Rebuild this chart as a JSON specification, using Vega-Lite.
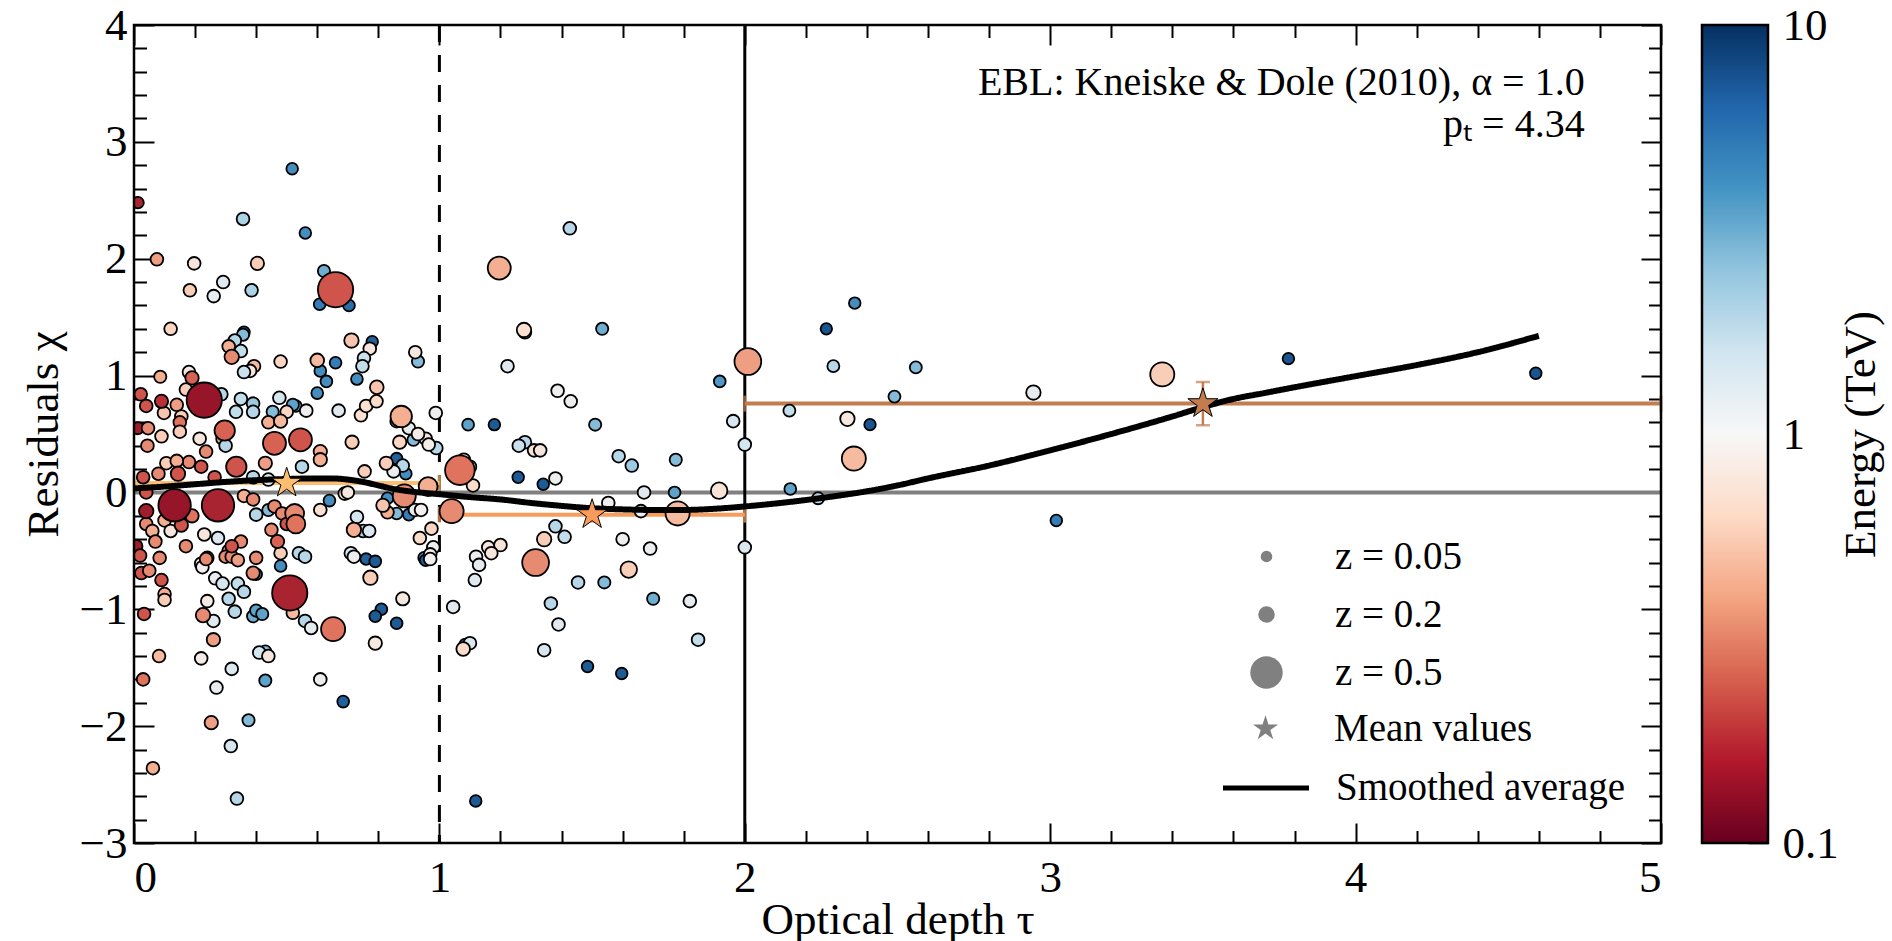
{
  "$schema": "https://vega.github.io/schema/vega-lite/v6.json",
  "background": "white",
  "padding": {"left": 21, "top": 3, "right": 4, "bottom": 0},
  "width": 1634,
  "height": 818,
  "config": {
    "font": "Liberation Serif",
    "view": {"stroke": null},
    "axis": {
      "labelFont": "Liberation Serif", "titleFont": "Liberation Serif",
      "labelFontSize": 45, "titleFontSize": 45, "labelColor": "black", "titleColor": "black",
      "titleFontWeight": "normal", "grid": false, "domain": false,
      "tickColor": "black", "tickWidth": 2
    },
    "legend": {
      "labelFont": "Liberation Serif", "labelFontSize": 39, "labelColor": "black",
      "labelLimit": 600, "padding": 0, "titlePadding": 0
    }
  },
  "datasets": {
    "sources": [
      {"tau": 0.518, "chi": 2.77, "E": 5, "z": 0.05},
      {"tau": 0.013, "chi": 2.48, "E": 0.13, "z": 0.05},
      {"tau": 0.357, "chi": 2.34, "E": 2.2, "z": 0.1},
      {"tau": 0.561, "chi": 2.22, "E": 5, "z": 0.05},
      {"tau": 0.075, "chi": 1.995, "E": 0.35, "z": 0.1},
      {"tau": 0.197, "chi": 1.96, "E": 0.8, "z": 0.1},
      {"tau": 0.404, "chi": 1.96, "E": 0.55, "z": 0.12},
      {"tau": 0.292, "chi": 1.8, "E": 1.3, "z": 0.1},
      {"tau": 0.183, "chi": 1.73, "E": 0.55, "z": 0.1},
      {"tau": 0.261, "chi": 1.68, "E": 1.15, "z": 0.1},
      {"tau": 0.385, "chi": 1.73, "E": 2.2, "z": 0.1},
      {"tau": 0.622, "chi": 1.895, "E": 3.5, "z": 0.08},
      {"tau": 0.66, "chi": 1.735, "E": 0.2, "z": 0.55},
      {"tau": 0.608, "chi": 1.61, "E": 6, "z": 0.06},
      {"tau": 0.704, "chi": 1.6, "E": 7, "z": 0.06},
      {"tau": 0.12, "chi": 1.4, "E": 0.6, "z": 0.1},
      {"tau": 0.36, "chi": 1.37, "E": 8, "z": 0.06},
      {"tau": 0.357, "chi": 1.35, "E": 3, "z": 0.08},
      {"tau": 0.33, "chi": 1.3, "E": 2, "z": 0.1},
      {"tau": 0.31, "chi": 1.25, "E": 0.4, "z": 0.1},
      {"tau": 0.35, "chi": 1.21, "E": 1.8, "z": 0.1},
      {"tau": 0.32, "chi": 1.16, "E": 0.3, "z": 0.15},
      {"tau": 0.48, "chi": 1.12, "E": 0.6, "z": 0.1},
      {"tau": 0.6, "chi": 1.13, "E": 0.45, "z": 0.13},
      {"tau": 0.66, "chi": 1.11, "E": 6, "z": 0.06},
      {"tau": 0.712, "chi": 1.3, "E": 0.5, "z": 0.15},
      {"tau": 0.78, "chi": 1.29, "E": 8, "z": 0.05},
      {"tau": 0.772, "chi": 1.23, "E": 0.8, "z": 0.1},
      {"tau": 0.753, "chi": 1.15, "E": 1.7, "z": 0.1},
      {"tau": 0.748, "chi": 1.08, "E": 1.8, "z": 0.1},
      {"tau": 0.921, "chi": 1.2, "E": 0.85, "z": 0.1},
      {"tau": 0.93, "chi": 1.12, "E": 3, "z": 0.08},
      {"tau": 0.393, "chi": 1.08, "E": 0.45, "z": 0.1},
      {"tau": 0.38, "chi": 1.04, "E": 0.8, "z": 0.1},
      {"tau": 0.36, "chi": 1.03, "E": 1.7, "z": 0.1},
      {"tau": 0.18, "chi": 1.03, "E": 0.8, "z": 0.1},
      {"tau": 0.19, "chi": 0.98, "E": 0.22, "z": 0.12},
      {"tau": 0.086, "chi": 0.99, "E": 0.4, "z": 0.08},
      {"tau": 0.61, "chi": 1.04, "E": 5, "z": 0.06},
      {"tau": 0.73, "chi": 0.97, "E": 5, "z": 0.06},
      {"tau": 0.6, "chi": 0.85, "E": 5, "z": 0.06},
      {"tau": 0.63, "chi": 0.95, "E": 5, "z": 0.06},
      {"tau": 0.022, "chi": 0.84, "E": 0.2, "z": 0.1},
      {"tau": 0.04, "chi": 0.74, "E": 0.2, "z": 0.1},
      {"tau": 0.09, "chi": 0.78, "E": 0.15, "z": 0.12},
      {"tau": 0.14, "chi": 0.75, "E": 0.35, "z": 0.1},
      {"tau": 0.098, "chi": 0.68, "E": 0.5, "z": 0.1},
      {"tau": 0.23, "chi": 0.79, "E": 0.11, "z": 0.55},
      {"tau": 0.17, "chi": 0.88, "E": 0.55, "z": 0.1},
      {"tau": 0.286, "chi": 0.84, "E": 2, "z": 0.1},
      {"tau": 0.35, "chi": 0.8, "E": 1.8, "z": 0.1},
      {"tau": 0.334, "chi": 0.69, "E": 1.8, "z": 0.1},
      {"tau": 0.39, "chi": 0.76, "E": 2.5, "z": 0.1},
      {"tau": 0.39, "chi": 0.69, "E": 2, "z": 0.1},
      {"tau": 0.476, "chi": 0.81, "E": 1.5, "z": 0.1},
      {"tau": 0.52, "chi": 0.75, "E": 4, "z": 0.08},
      {"tau": 0.564, "chi": 0.7, "E": 1.1, "z": 0.1},
      {"tau": 0.5, "chi": 0.69, "E": 0.6, "z": 0.1},
      {"tau": 0.454, "chi": 0.69, "E": 3, "z": 0.08},
      {"tau": 0.44, "chi": 0.6, "E": 0.4, "z": 0.1},
      {"tau": 0.48, "chi": 0.61, "E": 0.45, "z": 0.12},
      {"tau": 0.67, "chi": 0.7, "E": 1.3, "z": 0.1},
      {"tau": 0.743, "chi": 0.66, "E": 0.7, "z": 0.1},
      {"tau": 0.76, "chi": 0.74, "E": 0.7, "z": 0.1},
      {"tau": 0.794, "chi": 0.78, "E": 0.65, "z": 0.1},
      {"tau": 0.795, "chi": 0.9, "E": 0.5, "z": 0.13},
      {"tau": 0.875, "chi": 0.65, "E": 0.4, "z": 0.3},
      {"tau": 0.86, "chi": 0.61, "E": 2, "z": 0.1},
      {"tau": 0.9, "chi": 0.55, "E": 1.2, "z": 0.1},
      {"tau": 0.915, "chi": 0.45, "E": 3, "z": 0.08},
      {"tau": 0.955, "chi": 0.46, "E": 0.85, "z": 0.1},
      {"tau": 0.988, "chi": 0.68, "E": 1.05, "z": 0.1},
      {"tau": 0.99, "chi": 0.38, "E": 2, "z": 0.1},
      {"tau": 0.965, "chi": 0.41, "E": 0.95, "z": 0.1},
      {"tau": 0.87, "chi": 0.43, "E": 0.6, "z": 0.12},
      {"tau": 0.714, "chi": 0.43, "E": 0.55, "z": 0.12},
      {"tau": 0.53, "chi": 0.74, "E": 4, "z": 0.06},
      {"tau": 0.93, "chi": 0.5, "E": 0.9, "z": 0.1},
      {"tau": 0.155, "chi": 0.65, "E": 0.55, "z": 0.1},
      {"tau": 0.013, "chi": 0.55, "E": 0.12, "z": 0.08},
      {"tau": 0.046, "chi": 0.55, "E": 0.3, "z": 0.1},
      {"tau": 0.09, "chi": 0.48, "E": 0.55, "z": 0.1},
      {"tau": 0.044, "chi": 0.4, "E": 0.3, "z": 0.1},
      {"tau": 0.15, "chi": 0.6, "E": 0.25, "z": 0.1},
      {"tau": 0.15, "chi": 0.52, "E": 0.55, "z": 0.1},
      {"tau": 0.215, "chi": 0.46, "E": 0.8, "z": 0.1},
      {"tau": 0.236, "chi": 0.35, "E": 0.3, "z": 0.1},
      {"tau": 0.297, "chi": 0.53, "E": 0.22, "z": 0.28},
      {"tau": 0.29, "chi": 0.46, "E": 0.4, "z": 0.1},
      {"tau": 0.3, "chi": 0.4, "E": 2, "z": 0.1},
      {"tau": 0.46, "chi": 0.42, "E": 0.22, "z": 0.33},
      {"tau": 0.545, "chi": 0.45, "E": 0.2, "z": 0.33},
      {"tau": 0.43, "chi": 0.25, "E": 0.35, "z": 0.12},
      {"tau": 0.335, "chi": 0.22, "E": 0.2, "z": 0.28},
      {"tau": 0.144, "chi": 0.16, "E": 0.2, "z": 0.15},
      {"tau": 0.18, "chi": 0.26, "E": 0.3, "z": 0.1},
      {"tau": 0.22, "chi": 0.22, "E": 0.2, "z": 0.1},
      {"tau": 0.03, "chi": 0.13, "E": 0.2, "z": 0.1},
      {"tau": 0.08, "chi": 0.16, "E": 0.3, "z": 0.1},
      {"tau": 0.106, "chi": 0.25, "E": 0.55, "z": 0.1},
      {"tau": 0.14, "chi": 0.27, "E": 0.4, "z": 0.1},
      {"tau": 0.264, "chi": 0.13, "E": 0.2, "z": 0.1},
      {"tau": 0.39, "chi": 0.13, "E": 2, "z": 0.1},
      {"tau": 0.44, "chi": 0.11, "E": 1.3, "z": 0.1},
      {"tau": 0.61, "chi": 0.35, "E": 0.4, "z": 0.12},
      {"tau": 0.61, "chi": 0.28, "E": 0.4, "z": 0.12},
      {"tau": 0.55, "chi": 0.22, "E": 2, "z": 0.1},
      {"tau": 0.755, "chi": 0.18, "E": 0.55, "z": 0.1},
      {"tau": 0.826, "chi": 0.25, "E": 0.55, "z": 0.12},
      {"tau": 0.86, "chi": 0.29, "E": 8, "z": 0.05},
      {"tau": 0.88, "chi": 0.23, "E": 2, "z": 0.1},
      {"tau": 0.89, "chi": 0.16, "E": 5, "z": 0.06},
      {"tau": 0.85, "chi": 0.18, "E": 1.1, "z": 0.1},
      {"tau": 0.963, "chi": 0.05, "E": 0.4, "z": 0.25},
      {"tau": 0.885, "chi": -0.03, "E": 0.3, "z": 0.33},
      {"tau": 0.69, "chi": -0.01, "E": 0.7, "z": 0.1},
      {"tau": 0.7, "chi": 0.0, "E": 0.85, "z": 0.1},
      {"tau": 0.64, "chi": -0.07, "E": 5, "z": 0.06},
      {"tau": 0.61, "chi": -0.15, "E": 0.7, "z": 0.1},
      {"tau": 0.73, "chi": -0.21, "E": 1.5, "z": 0.1},
      {"tau": 0.72, "chi": -0.32, "E": 0.4, "z": 0.15},
      {"tau": 0.75, "chi": -0.33, "E": 2, "z": 0.1},
      {"tau": 0.815, "chi": -0.11, "E": 0.5, "z": 0.12},
      {"tau": 0.86, "chi": -0.18, "E": 3, "z": 0.06},
      {"tau": 0.9, "chi": -0.19, "E": 6, "z": 0.06},
      {"tau": 0.92, "chi": -0.15, "E": 1.1, "z": 0.1},
      {"tau": 0.94, "chi": -0.15, "E": 1.0, "z": 0.1},
      {"tau": 0.974, "chi": -0.31, "E": 0.6, "z": 0.1},
      {"tau": 0.936, "chi": -0.39, "E": 0.65, "z": 0.1},
      {"tau": 0.98, "chi": -0.47, "E": 1.1, "z": 0.1},
      {"tau": 0.97, "chi": -0.53, "E": 1.0, "z": 0.1},
      {"tau": 0.95, "chi": -0.56, "E": 5, "z": 0.06},
      {"tau": 0.526, "chi": -0.18, "E": 0.3, "z": 0.25},
      {"tau": 0.53, "chi": -0.27, "E": 0.25, "z": 0.25},
      {"tau": 0.54, "chi": -0.52, "E": 2, "z": 0.1},
      {"tau": 0.71, "chi": -0.52, "E": 1.5, "z": 0.1},
      {"tau": 0.76, "chi": -0.57, "E": 8, "z": 0.05},
      {"tau": 0.133, "chi": -0.11, "E": 0.11, "z": 0.5},
      {"tau": 0.275, "chi": -0.11, "E": 0.13, "z": 0.5},
      {"tau": 0.04, "chi": -0.16, "E": 0.12, "z": 0.15},
      {"tau": 0.04, "chi": 0.0, "E": 0.2, "z": 0.1},
      {"tau": 0.04, "chi": -0.27, "E": 0.3, "z": 0.1},
      {"tau": 0.007, "chi": -0.46, "E": 0.12, "z": 0.1},
      {"tau": 0.02, "chi": -0.54, "E": 0.2, "z": 0.1},
      {"tau": 0.06, "chi": -0.33, "E": 0.4, "z": 0.1},
      {"tau": 0.07, "chi": -0.42, "E": 0.3, "z": 0.1},
      {"tau": 0.084, "chi": -0.56, "E": 0.3, "z": 0.1},
      {"tau": 0.1, "chi": -0.24, "E": 0.4, "z": 0.1},
      {"tau": 0.12, "chi": -0.33, "E": 0.8, "z": 0.1},
      {"tau": 0.155, "chi": -0.28, "E": 0.2, "z": 0.12},
      {"tau": 0.19, "chi": -0.2, "E": 0.25, "z": 0.12},
      {"tau": 0.17, "chi": -0.46, "E": 0.3, "z": 0.1},
      {"tau": 0.23, "chi": -0.36, "E": 0.8, "z": 0.1},
      {"tau": 0.24, "chi": -0.56, "E": 0.3, "z": 0.1},
      {"tau": 0.275, "chi": -0.39, "E": 1.4, "z": 0.1},
      {"tau": 0.31, "chi": -0.5, "E": 0.4, "z": 0.1},
      {"tau": 0.35, "chi": -0.42, "E": 0.3, "z": 0.1},
      {"tau": 0.36, "chi": -0.03, "E": 0.4, "z": 0.1},
      {"tau": 0.39, "chi": -0.06, "E": 0.3, "z": 0.1},
      {"tau": 0.4, "chi": -0.19, "E": 2, "z": 0.1},
      {"tau": 0.44, "chi": -0.15, "E": 3, "z": 0.08},
      {"tau": 0.46, "chi": -0.12, "E": 0.3, "z": 0.1},
      {"tau": 0.485, "chi": -0.18, "E": 0.3, "z": 0.1},
      {"tau": 0.5, "chi": -0.27, "E": 0.2, "z": 0.1},
      {"tau": 0.45, "chi": -0.32, "E": 0.3, "z": 0.1},
      {"tau": 0.47, "chi": -0.42, "E": 0.22, "z": 0.12},
      {"tau": 0.48, "chi": -0.52, "E": 0.55, "z": 0.1},
      {"tau": 0.4, "chi": -0.56, "E": 0.3, "z": 0.1},
      {"tau": 0.3, "chi": -0.55, "E": 0.3, "z": 0.1},
      {"tau": 0.39, "chi": -0.69, "E": 0.3, "z": 0.12},
      {"tau": 0.4, "chi": -0.7, "E": 5, "z": 0.06},
      {"tau": 0.48, "chi": -0.63, "E": 5, "z": 0.06},
      {"tau": 0.56, "chi": -0.55, "E": 2, "z": 0.1},
      {"tau": 0.024, "chi": -0.69, "E": 0.2, "z": 0.1},
      {"tau": 0.05, "chi": -0.67, "E": 0.3, "z": 0.1},
      {"tau": 0.09, "chi": -0.75, "E": 0.2, "z": 0.1},
      {"tau": 0.1, "chi": -0.87, "E": 0.4, "z": 0.1},
      {"tau": 0.1, "chi": -0.92, "E": 0.55, "z": 0.1},
      {"tau": 0.033, "chi": -1.04, "E": 0.2, "z": 0.1},
      {"tau": 0.22, "chi": -0.61, "E": 0.9, "z": 0.1},
      {"tau": 0.266, "chi": -0.735, "E": 1.2, "z": 0.1},
      {"tau": 0.29, "chi": -0.78, "E": 1.5, "z": 0.1},
      {"tau": 0.34, "chi": -0.78, "E": 1.8, "z": 0.1},
      {"tau": 0.36, "chi": -0.85, "E": 2, "z": 0.1},
      {"tau": 0.24, "chi": -0.93, "E": 0.9, "z": 0.1},
      {"tau": 0.226, "chi": -1.05, "E": 0.3, "z": 0.15},
      {"tau": 0.26, "chi": -1.1, "E": 1.3, "z": 0.1},
      {"tau": 0.31, "chi": -0.91, "E": 2, "z": 0.1},
      {"tau": 0.33, "chi": -1.02, "E": 2, "z": 0.1},
      {"tau": 0.39, "chi": -1.06, "E": 3.5, "z": 0.08},
      {"tau": 0.4, "chi": -1.01, "E": 4, "z": 0.08},
      {"tau": 0.42, "chi": -1.04, "E": 4, "z": 0.08},
      {"tau": 0.51, "chi": -0.86, "E": 0.13, "z": 0.55},
      {"tau": 0.52, "chi": -1.03, "E": 0.45, "z": 0.1},
      {"tau": 0.56, "chi": -1.1, "E": 2, "z": 0.1},
      {"tau": 0.58, "chi": -1.16, "E": 1.2, "z": 0.1},
      {"tau": 0.652, "chi": -1.17, "E": 0.25, "z": 0.35},
      {"tau": 0.26, "chi": -1.26, "E": 0.35, "z": 0.12},
      {"tau": 0.082, "chi": -1.4, "E": 0.45, "z": 0.1},
      {"tau": 0.22, "chi": -1.42, "E": 0.9, "z": 0.1},
      {"tau": 0.32, "chi": -1.51, "E": 1.4, "z": 0.1},
      {"tau": 0.27, "chi": -1.67, "E": 1.15, "z": 0.1},
      {"tau": 0.41, "chi": -1.37, "E": 1.5, "z": 0.1},
      {"tau": 0.43, "chi": -1.36, "E": 3, "z": 0.06},
      {"tau": 0.44, "chi": -1.4, "E": 0.8, "z": 0.1},
      {"tau": 0.43, "chi": -1.61, "E": 4, "z": 0.08},
      {"tau": 0.61, "chi": -1.6, "E": 1.1, "z": 0.1},
      {"tau": 0.03, "chi": -1.6, "E": 0.25, "z": 0.1},
      {"tau": 0.685, "chi": -1.79, "E": 8, "z": 0.06},
      {"tau": 0.253, "chi": -1.97, "E": 0.35, "z": 0.12},
      {"tau": 0.375, "chi": -1.95, "E": 3, "z": 0.08},
      {"tau": 0.317, "chi": -2.17, "E": 1.5, "z": 0.1},
      {"tau": 0.062, "chi": -2.36, "E": 0.4, "z": 0.1},
      {"tau": 0.337, "chi": -2.62, "E": 2, "z": 0.1},
      {"tau": 0.774, "chi": -0.73, "E": 0.55, "z": 0.15},
      {"tau": 0.88, "chi": -0.91, "E": 0.85, "z": 0.12},
      {"tau": 0.81, "chi": -1.0, "E": 8.5, "z": 0.06},
      {"tau": 0.79, "chi": -1.06, "E": 8.5, "z": 0.06},
      {"tau": 0.86, "chi": -1.12, "E": 8.5, "z": 0.06},
      {"tau": 0.79, "chi": -1.29, "E": 0.85, "z": 0.12},
      {"tau": 0.79, "chi": -0.59, "E": 8.5, "z": 0.06},
      {"tau": 0.72, "chi": -0.55, "E": 1.1, "z": 0.1},
      {"tau": 0.955, "chi": -0.58, "E": 8.5, "z": 0.06},
      {"tau": 0.97, "chi": -0.57, "E": 1.0, "z": 0.1},
      {"tau": 1.045, "chi": -0.98, "E": 1.3, "z": 0.1},
      {"tau": 0.224, "chi": -0.64, "E": 1.0, "z": 0.1},
      {"tau": 0.236, "chi": -0.57, "E": 0.3, "z": 0.1},
      {"tau": 0.32, "chi": -0.55, "E": 0.3, "z": 0.1},
      {"tau": 0.32, "chi": -0.46, "E": 0.2, "z": 0.1},
      {"tau": 0.34, "chi": -0.58, "E": 0.35, "z": 0.1},
      {"tau": 0.77, "chi": -0.33, "E": 1.4, "z": 0.1},
      {"tau": 0.83, "chi": -0.17, "E": 0.4, "z": 0.1},
      {"tau": 0.83, "chi": -0.05, "E": 5, "z": 0.06},
      {"tau": 1.427, "chi": 2.26, "E": 2, "z": 0.1},
      {"tau": 1.196, "chi": 1.92, "E": 0.4, "z": 0.33},
      {"tau": 1.28, "chi": 1.37, "E": 2, "z": 0.1},
      {"tau": 1.277, "chi": 1.39, "E": 0.7, "z": 0.15},
      {"tau": 1.533, "chi": 1.4, "E": 3.5, "z": 0.08},
      {"tau": 1.223, "chi": 1.08, "E": 1.3, "z": 0.1},
      {"tau": 1.387, "chi": 0.87, "E": 1.05, "z": 0.1},
      {"tau": 1.43, "chi": 0.78, "E": 1.05, "z": 0.1},
      {"tau": 1.094, "chi": 0.58, "E": 4, "z": 0.06},
      {"tau": 1.18, "chi": 0.58, "E": 8.5, "z": 0.05},
      {"tau": 1.51, "chi": 0.58, "E": 3, "z": 0.08},
      {"tau": 1.28, "chi": 0.43, "E": 2, "z": 0.1},
      {"tau": 1.26, "chi": 0.4, "E": 1.7, "z": 0.1},
      {"tau": 1.31, "chi": 0.36, "E": 0.75, "z": 0.1},
      {"tau": 1.33, "chi": 0.36, "E": 0.8, "z": 0.1},
      {"tau": 1.258, "chi": 0.13, "E": 8.5, "z": 0.05},
      {"tau": 1.34, "chi": 0.07, "E": 8.5, "z": 0.05},
      {"tau": 1.38, "chi": 0.12, "E": 1.05, "z": 0.1},
      {"tau": 1.587, "chi": 0.31, "E": 2, "z": 0.1},
      {"tau": 1.63, "chi": 0.23, "E": 2.5, "z": 0.1},
      {"tau": 1.774, "chi": 0.28, "E": 3, "z": 0.08},
      {"tau": 1.918, "chi": 0.95, "E": 4.5, "z": 0.06},
      {"tau": 1.962, "chi": 0.61, "E": 1.5, "z": 0.1},
      {"tau": 2.0, "chi": 0.41, "E": 1.5, "z": 0.1},
      {"tau": 2.01, "chi": 1.12, "E": 0.35, "z": 0.4},
      {"tau": 1.067, "chi": 0.19, "E": 0.25, "z": 0.45},
      {"tau": 1.08, "chi": 0.28, "E": 0.75, "z": 0.1},
      {"tau": 1.1, "chi": 0.22, "E": 0.7, "z": 0.1},
      {"tau": 1.11, "chi": 0.06, "E": 0.65, "z": 0.1},
      {"tau": 1.04, "chi": -0.16, "E": 0.3, "z": 0.35},
      {"tau": 1.67, "chi": 0.0, "E": 1.3, "z": 0.1},
      {"tau": 1.77, "chi": 0.0, "E": 4, "z": 0.06},
      {"tau": 1.916, "chi": 0.015, "E": 0.75, "z": 0.2},
      {"tau": 1.553, "chi": -0.09, "E": 1.05, "z": 0.1},
      {"tau": 1.66, "chi": -0.16, "E": 1.1, "z": 0.1},
      {"tau": 1.78, "chi": -0.18, "E": 0.45, "z": 0.35},
      {"tau": 1.6, "chi": -0.4, "E": 1.05, "z": 0.1},
      {"tau": 1.69, "chi": -0.48, "E": 1.1, "z": 0.1},
      {"tau": 2.0, "chi": -0.47, "E": 1.4, "z": 0.1},
      {"tau": 1.38, "chi": -0.29, "E": 2, "z": 0.1},
      {"tau": 1.41, "chi": -0.38, "E": 1.8, "z": 0.1},
      {"tau": 1.343, "chi": -0.4, "E": 0.55, "z": 0.15},
      {"tau": 1.315, "chi": -0.6, "E": 0.3, "z": 0.4},
      {"tau": 1.16, "chi": -0.47, "E": 0.8, "z": 0.1},
      {"tau": 1.2, "chi": -0.45, "E": 0.75, "z": 0.1},
      {"tau": 1.17, "chi": -0.52, "E": 0.8, "z": 0.1},
      {"tau": 1.12, "chi": -0.55, "E": 1.1, "z": 0.1},
      {"tau": 1.62, "chi": -0.66, "E": 0.55, "z": 0.2},
      {"tau": 1.13, "chi": -0.62, "E": 1.2, "z": 0.1},
      {"tau": 1.116, "chi": -0.75, "E": 1.3, "z": 0.1},
      {"tau": 1.454, "chi": -0.77, "E": 2, "z": 0.1},
      {"tau": 1.54, "chi": -0.77, "E": 3, "z": 0.08},
      {"tau": 1.7, "chi": -0.91, "E": 3.5, "z": 0.08},
      {"tau": 1.82, "chi": -0.93, "E": 1.2, "z": 0.1},
      {"tau": 1.365, "chi": -0.95, "E": 2, "z": 0.1},
      {"tau": 1.39, "chi": -1.13, "E": 1.3, "z": 0.1},
      {"tau": 1.847, "chi": -1.26, "E": 1.8, "z": 0.1},
      {"tau": 1.343, "chi": -1.35, "E": 1.5, "z": 0.1},
      {"tau": 1.078, "chi": -1.34, "E": 0.65, "z": 0.13},
      {"tau": 1.085, "chi": -1.3, "E": 7, "z": 0.05},
      {"tau": 1.1, "chi": -1.29, "E": 1.4, "z": 0.1},
      {"tau": 1.485, "chi": -1.49, "E": 8.5, "z": 0.05},
      {"tau": 1.597, "chi": -1.55, "E": 8.5, "z": 0.05},
      {"tau": 1.119, "chi": -2.64, "E": 8.5, "z": 0.05},
      {"tau": 2.36, "chi": 1.62, "E": 5, "z": 0.05},
      {"tau": 2.267, "chi": 1.4, "E": 9, "z": 0.04},
      {"tau": 2.29, "chi": 1.08, "E": 2, "z": 0.07},
      {"tau": 2.56, "chi": 1.07, "E": 3, "z": 0.07},
      {"tau": 2.49, "chi": 0.82, "E": 3, "z": 0.07},
      {"tau": 2.146, "chi": 0.7, "E": 1.8, "z": 0.07},
      {"tau": 2.336, "chi": 0.63, "E": 0.85, "z": 0.15},
      {"tau": 2.41, "chi": 0.58, "E": 9, "z": 0.04},
      {"tau": 2.357, "chi": 0.29, "E": 0.45, "z": 0.35},
      {"tau": 2.149, "chi": 0.03, "E": 4, "z": 0.06},
      {"tau": 2.24, "chi": -0.05, "E": 2, "z": 0.07},
      {"tau": 2.945, "chi": 0.855, "E": 1.2, "z": 0.15},
      {"tau": 3.367, "chi": 1.01, "E": 0.55, "z": 0.35},
      {"tau": 3.78, "chi": 1.145, "E": 9, "z": 0.05},
      {"tau": 4.59, "chi": 1.02, "E": 9, "z": 0.05},
      {"tau": 3.02, "chi": -0.24, "E": 6, "z": 0.05}
    ],
    "smooth": [
      {"tau": 0.0, "chi": 0.035}, {"tau": 0.1, "chi": 0.05}, {"tau": 0.2, "chi": 0.07},
      {"tau": 0.3, "chi": 0.09}, {"tau": 0.4, "chi": 0.105}, {"tau": 0.5, "chi": 0.115},
      {"tau": 0.6, "chi": 0.12}, {"tau": 0.65, "chi": 0.12}, {"tau": 0.7, "chi": 0.11},
      {"tau": 0.75, "chi": 0.09}, {"tau": 0.8, "chi": 0.06}, {"tau": 0.85, "chi": 0.03},
      {"tau": 0.9, "chi": 0.01}, {"tau": 1.0, "chi": -0.015}, {"tau": 1.1, "chi": -0.04},
      {"tau": 1.2, "chi": -0.06}, {"tau": 1.3, "chi": -0.09}, {"tau": 1.4, "chi": -0.115},
      {"tau": 1.5, "chi": -0.135}, {"tau": 1.6, "chi": -0.145}, {"tau": 1.7, "chi": -0.15},
      {"tau": 1.8, "chi": -0.15}, {"tau": 1.9, "chi": -0.14}, {"tau": 2.0, "chi": -0.12},
      {"tau": 2.1, "chi": -0.095}, {"tau": 2.2, "chi": -0.065}, {"tau": 2.3, "chi": -0.03},
      {"tau": 2.4, "chi": 0.01}, {"tau": 2.5, "chi": 0.06}, {"tau": 2.6, "chi": 0.12},
      {"tau": 2.8, "chi": 0.23}, {"tau": 3.0, "chi": 0.36}, {"tau": 3.2, "chi": 0.5},
      {"tau": 3.4, "chi": 0.65}, {"tau": 3.5, "chi": 0.73}, {"tau": 3.6, "chi": 0.8},
      {"tau": 3.7, "chi": 0.85}, {"tau": 3.8, "chi": 0.9}, {"tau": 4.0, "chi": 0.995},
      {"tau": 4.2, "chi": 1.09}, {"tau": 4.4, "chi": 1.2}, {"tau": 4.6, "chi": 1.34}
    ],
    "bins": [
      {"bin": "0–1", "kind": "Mean values", "lo": 0, "hi": 1, "mid": 0.5, "mean": 0.08, "elo": 0.04, "ehi": 0.12},
      {"bin": "1–2", "kind": "Mean values", "lo": 1, "hi": 2, "mid": 1.5, "mean": -0.19, "elo": -0.25, "ehi": -0.13},
      {"bin": "2–5", "kind": "Mean values", "lo": 2, "hi": 5, "mid": 3.5, "mean": 0.76, "elo": 0.575, "ehi": 0.945}
    ],
    "limits": [
      {"tau": 1, "style": "dashed"},
      {"tau": 2, "style": "solid"}
    ],
    "zero": [{"chi": 0}],
    "notes": [
      {"tau": 4.75, "chi": 3.5, "text": "EBL: Kneiske & Dole (2010), α = 1.0"},
      {"tau": 4.75, "chi": 3.14, "text": "pₜ = 4.34"}
    ],
    "energyRange": [{"lo": 0.1, "hi": 10}]
  },
  "resolve": {"scale": {"x": "independent", "y": "independent", "strokeDash": "independent"}},
  "layer": [
    {
      "data": {"name": "zero"},
      "mark": {"type": "rule", "color": "#808080", "strokeWidth": 4},
      "encoding": {
        "x": {"datum": 0, "type": "quantitative", "scale": {"domain": [0, 5], "range": [0, 1527], "nice": false, "zero": false}, "axis": null},
        "x2": {"datum": 5},
        "y": {"field": "chi", "type": "quantitative", "scale": {"domain": [-3, 4], "nice": false, "zero": false},
          "axis": {"orient": "right", "offset": -107, "values": [-3, -2, -1, 0, 1, 2, 3, 4], "tickSize": -20, "labels": false, "title": null}}
      }
    },
    {
      "data": {"name": "limits"},
      "mark": {"type": "rule", "color": "black", "strokeWidth": 3},
      "encoding": {
        "x": {"field": "tau", "type": "quantitative", "scale": {"domain": [0, 5], "range": [0, 1527], "nice": false, "zero": false},
          "axis": {"orient": "top", "values": [0, 1, 2, 3, 4, 5], "tickSize": -20, "labels": false, "title": null}},
        "strokeDash": {"field": "style", "type": "nominal", "scale": {"domain": ["dashed", "solid"], "range": [[17, 13], [1, 0]]}, "legend": null}
      }
    },
    {
      "data": {"name": "bins"},
      "mark": {"type": "rule", "strokeWidth": 4},
      "encoding": {
        "x": {"field": "lo", "type": "quantitative", "scale": {"domain": [0, 5], "range": [0, 1527], "nice": false, "zero": false},
          "axis": {"orient": "top", "values": [0.2, 0.4, 0.6, 0.8, 1.2, 1.4, 1.6, 1.8, 2.2, 2.4, 2.6, 2.8, 3.2, 3.4, 3.6, 3.8, 4.2, 4.4, 4.6, 4.8], "tickSize": -12.5, "labels": false, "title": null}},
        "x2": {"field": "hi"},
        "y": {"field": "mean", "type": "quantitative", "scale": {"domain": [-3, 4], "nice": false, "zero": false},
          "axis": {"orient": "right", "offset": -107, "values": [-2.8, -2.6, -2.4, -2.2, -1.8, -1.6, -1.4, -1.2, -0.8, -0.6, -0.4, -0.2, 0.2, 0.4, 0.6, 0.8, 1.2, 1.4, 1.6, 1.8, 2.2, 2.4, 2.6, 2.8, 3.2, 3.4, 3.6, 3.8], "tickSize": -12.5, "labels": false, "title": null}},
        "stroke": {"field": "bin", "type": "nominal", "scale": {"domain": ["0–1", "1–2", "2–5"], "range": ["#fdbe72", "#f89c5b", "#c27c4f"]}, "legend": null}
      }
    },
    {
      "data": {"name": "bins"},
      "mark": {"type": "tick", "orient": "vertical", "size": 16, "thickness": 3},
      "encoding": {
        "x": {"field": "lo", "type": "quantitative", "scale": {"domain": [0, 5], "range": [0, 1527], "nice": false, "zero": false}, "axis": null},
        "y": {"field": "mean", "type": "quantitative", "scale": {"domain": [-3, 4], "nice": false, "zero": false}, "axis": null},
        "fill": {"field": "bin", "type": "nominal", "scale": {"domain": ["0–1", "1–2", "2–5"], "range": ["#fdbe72", "#f89c5b", "#c27c4f"]}, "legend": null}
      }
    },
    {
      "data": {"name": "bins"},
      "mark": {"type": "tick", "orient": "vertical", "size": 16, "thickness": 3},
      "encoding": {
        "x": {"field": "hi", "type": "quantitative", "scale": {"domain": [0, 5], "range": [0, 1527], "nice": false, "zero": false}, "axis": null},
        "y": {"field": "mean", "type": "quantitative", "scale": {"domain": [-3, 4], "nice": false, "zero": false}, "axis": null},
        "fill": {"field": "bin", "type": "nominal", "legend": null}
      }
    },
    {
      "data": {"name": "sources"},
      "mark": {"type": "point", "shape": "circle", "filled": true, "opacity": 1, "stroke": "black", "strokeWidth": 1.8, "clip": true},
      "encoding": {
        "x": {"field": "tau", "type": "quantitative", "title": "Optical depth τ",
          "scale": {"domain": [0, 5], "range": [0, 1527], "nice": false, "zero": false},
          "axis": {"orient": "bottom", "values": [0, 1, 2, 3, 4, 5], "tickSize": -20, "labelPadding": 32, "titlePadding": -3}},
        "y": {"field": "chi", "type": "quantitative", "title": "Residuals χ",
          "scale": {"domain": [-3, 4], "nice": false, "zero": false},
          "axis": {"orient": "left", "values": [-3, -2, -1, 0, 1, 2, 3, 4], "tickSize": -20, "labelPadding": 27, "titlePadding": 13}},
        "color": {"field": "E", "type": "quantitative", "scale": {"type": "log", "domain": [0.1, 10], "scheme": "redblue"}, "legend": null},
        "size": {"field": "z", "type": "quantitative",
          "scale": {"type": "pow", "exponent": 2, "domain": [0.05, 0.5], "range": [135, 1050], "zero": false},
          "legend": {"orient": "none", "legendX": 1113, "legendY": 512, "title": null,
            "values": [0.05, 0.2, 0.5], "labelExpr": "'z = ' + datum.value",
            "symbolFillColor": "#808080", "symbolStrokeWidth": 0, "symbolOpacity": 1,
            "labelOffset": 49, "rowPadding": 18}},
        "order": {"field": "z", "type": "quantitative"}
      }
    },
    {
      "data": {"name": "bins"},
      "mark": {"type": "rule", "strokeWidth": 2.5},
      "encoding": {
        "x": {"field": "mid", "type": "quantitative", "scale": {"domain": [0, 5], "range": [0, 1527], "nice": false, "zero": false}, "axis": null},
        "y": {"field": "elo", "type": "quantitative", "scale": {"domain": [-3, 4], "nice": false, "zero": false}, "axis": null},
        "y2": {"field": "ehi"},
        "stroke": {"field": "bin", "type": "nominal", "legend": null}
      }
    },
    {
      "data": {"name": "bins"},
      "mark": {"type": "tick", "orient": "horizontal", "size": 14, "thickness": 2.5},
      "encoding": {
        "x": {"field": "mid", "type": "quantitative", "scale": {"domain": [0, 5], "range": [0, 1527], "nice": false, "zero": false}, "axis": null},
        "y": {"field": "elo", "type": "quantitative", "scale": {"domain": [-3, 4], "nice": false, "zero": false}, "axis": null},
        "fill": {"field": "bin", "type": "nominal", "legend": null}
      }
    },
    {
      "data": {"name": "bins"},
      "mark": {"type": "tick", "orient": "horizontal", "size": 14, "thickness": 2.5},
      "encoding": {
        "x": {"field": "mid", "type": "quantitative", "scale": {"domain": [0, 5], "range": [0, 1527], "nice": false, "zero": false}, "axis": null},
        "y": {"field": "ehi", "type": "quantitative", "scale": {"domain": [-3, 4], "nice": false, "zero": false}, "axis": null},
        "fill": {"field": "bin", "type": "nominal", "legend": null}
      }
    },
    {
      "data": {"name": "smooth"},
      "mark": {"type": "line", "color": "black", "strokeWidth": 6, "interpolate": "monotone", "clip": true},
      "encoding": {
        "x": {"field": "tau", "type": "quantitative", "scale": {"domain": [0, 5], "range": [0, 1527], "nice": false, "zero": false},
          "axis": {"orient": "bottom", "values": [0.2, 0.4, 0.6, 0.8, 1.2, 1.4, 1.6, 1.8, 2.2, 2.4, 2.6, 2.8, 3.2, 3.4, 3.6, 3.8, 4.2, 4.4, 4.6, 4.8], "tickSize": -12.5, "labels": false, "title": null}},
        "y": {"field": "chi", "type": "quantitative", "scale": {"domain": [-3, 4], "nice": false, "zero": false},
          "axis": {"orient": "left", "values": [-2.8, -2.6, -2.4, -2.2, -1.8, -1.6, -1.4, -1.2, -0.8, -0.6, -0.4, -0.2, 0.2, 0.4, 0.6, 0.8, 1.2, 1.4, 1.6, 1.8, 2.2, 2.4, 2.6, 2.8, 3.2, 3.4, 3.6, 3.8], "tickSize": -12.5, "labels": false, "title": null}},
        "strokeDash": {"datum": "Smoothed average", "type": "nominal",
          "scale": {"domain": ["Smoothed average"], "range": [[1, 0]]},
          "legend": {"orient": "none", "legendX": 1086, "legendY": 717, "title": null,
            "symbolType": "stroke", "symbolSize": 7400, "symbolStrokeWidth": 5, "symbolStrokeColor": "black",
            "labelOffset": 24}}
      }
    },
    {
      "data": {"name": "bins"},
      "mark": {"type": "point", "filled": true, "opacity": 1, "size": 1000, "stroke": "black", "strokeWidth": 1},
      "encoding": {
        "x": {"field": "mid", "type": "quantitative", "scale": {"domain": [0, 5], "range": [0, 1527], "nice": false, "zero": false}, "axis": null},
        "y": {"field": "mean", "type": "quantitative", "scale": {"domain": [-3, 4], "nice": false, "zero": false}, "axis": null},
        "fill": {"field": "bin", "type": "nominal", "legend": null},
        "shape": {"field": "kind", "type": "nominal",
          "scale": {"domain": ["Mean values"],
            "range": ["M0,-1L0.2245,-0.309L0.951,-0.309L0.363,0.118L0.588,0.809L0,0.382L-0.588,0.809L-0.363,0.118L-0.951,-0.309L-0.2245,-0.309Z"]},
          "legend": {"orient": "none", "legendX": 1112, "legendY": 684, "title": null,
            "symbolSize": 700, "labelOffset": 49,
            "symbolFillColor": "#808080", "symbolStrokeWidth": 0, "symbolOpacity": 1}}
      }
    },
    {
      "data": {"name": "notes"},
      "mark": {"type": "text", "align": "right", "baseline": "middle", "fontSize": 40, "font": "Liberation Serif", "color": "black"},
      "encoding": {
        "x": {"field": "tau", "type": "quantitative", "scale": {"domain": [0, 5], "range": [0, 1527], "nice": false, "zero": false}, "axis": null},
        "y": {"field": "chi", "type": "quantitative", "scale": {"domain": [-3, 4], "nice": false, "zero": false}, "axis": null},
        "text": {"field": "text"}
      }
    },
    {
      "data": {"name": "zero"},
      "mark": {"type": "rect", "fill": null, "stroke": "black", "strokeWidth": 2.5},
      "encoding": {
        "x": {"datum": 0, "type": "quantitative", "scale": {"domain": [0, 5], "range": [0, 1527], "nice": false, "zero": false}, "axis": null},
        "x2": {"datum": 5},
        "y": {"datum": -3, "type": "quantitative", "scale": {"domain": [-3, 4], "nice": false, "zero": false}, "axis": null},
        "y2": {"datum": 4}
      }
    },
    {
      "data": {"name": "energyRange"},
      "mark": {"type": "rect", "stroke": "black", "strokeWidth": 2.5,
        "fill": {"gradient": "linear", "x1": 0, "y1": 1, "x2": 0, "y2": 0,
          "stops": [
            {"offset": 0.0, "color": "#67001f"}, {"offset": 0.1, "color": "#b2182b"},
            {"offset": 0.2, "color": "#d6604d"}, {"offset": 0.3, "color": "#f4a582"},
            {"offset": 0.4, "color": "#fddbc7"}, {"offset": 0.5, "color": "#f7f7f7"},
            {"offset": 0.6, "color": "#d1e5f0"}, {"offset": 0.7, "color": "#92c5de"},
            {"offset": 0.8, "color": "#4393c3"}, {"offset": 0.9, "color": "#2166ac"},
            {"offset": 1.0, "color": "#053061"}]}},
      "encoding": {
        "x": {"datum": 0, "type": "quantitative", "scale": {"domain": [0, 1], "range": [1568, 1634], "nice": false, "zero": false}, "axis": null},
        "x2": {"datum": 1},
        "y": {"field": "lo", "type": "quantitative", "title": "Energy (TeV)",
          "scale": {"type": "log", "domain": [0.1, 10], "nice": false},
          "axis": {"orient": "right", "values": [0.1, 1, 10], "format": "~g", "tickSize": -20, "tickWidth": 1.5,
            "labelPadding": 34, "titleAngle": 270, "titleBaseline": "top", "titlePadding": 0}},
        "y2": {"field": "hi"}
      }
    },
    {
      "data": {"name": "energyRange"},
      "mark": {"type": "rect", "fillOpacity": 0, "strokeOpacity": 0},
      "encoding": {
        "x": {"datum": 0, "type": "quantitative", "scale": {"domain": [0, 1], "range": [1568, 1634], "nice": false, "zero": false}, "axis": null},
        "x2": {"datum": 1},
        "y": {"field": "lo", "type": "quantitative",
          "scale": {"type": "log", "domain": [0.1, 10], "nice": false},
          "axis": {"orient": "right", "values": [0.2, 0.3, 0.4, 0.5, 0.6, 0.7, 0.8, 0.9, 2, 3, 4, 5, 6, 7, 8, 9], "tickSize": -18, "tickWidth": 1.5, "labels": false, "title": null}},
        "y2": {"field": "hi"}
      }
    }
  ]
}
